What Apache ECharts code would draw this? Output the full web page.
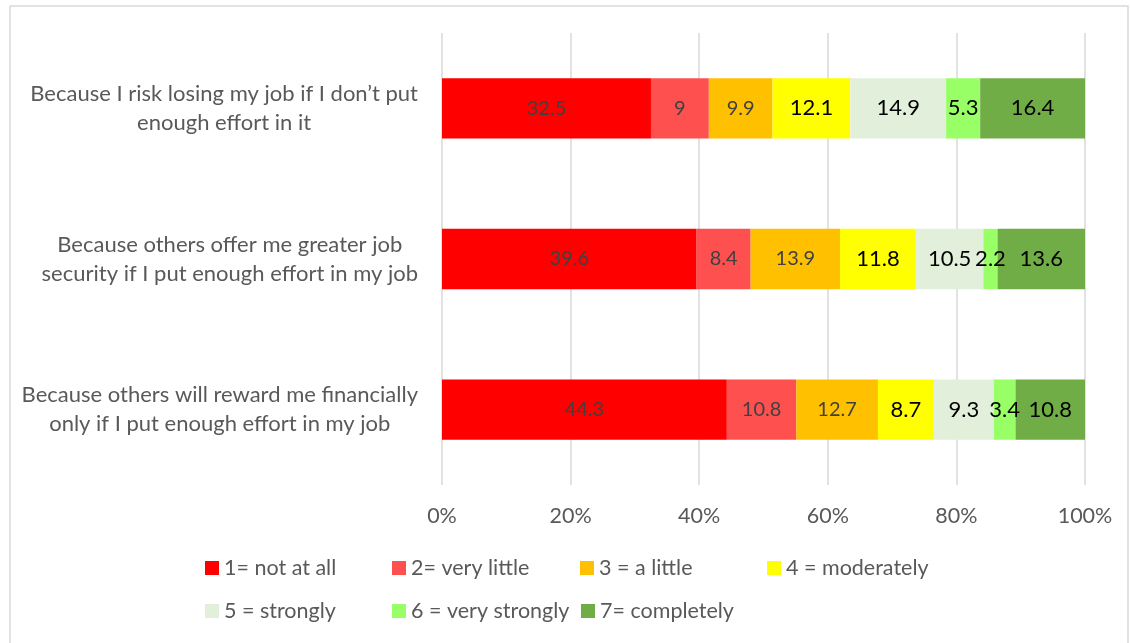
<!DOCTYPE html>
<html>
<head>
<meta charset="utf-8">
<script src="https://cdn.jsdelivr.net/npm/echarts@6/dist/echarts.min.js"></script>
<style>
  html, body { margin: 0; padding: 0; background: #fff; }
  #chart { width: 1130px; height: 643px; }
</style>
</head>
<body>
<div id="chart"></div>
<script>
// categories (top to bottom)
const categories = [
  'Because I risk losing my job if I don\u2019t put\nenough effort in it',
  'Because others offer me greater job\nsecurity if I put enough effort in my job',
  'Because others will reward me financially\nonly if I put enough effort in my job',
]

const seriesNames = [
  '1= not at all',
  '2= very little',
  '3 = a little',
  '4 = moderately',
  '5 = strongly',
  '6 = very strongly',
  '7= completely',
]

const notAtAll = [32.5, 39.6, 44.3]
const veryLittle = [9, 8.4, 10.8]
const aLittle = [9.9, 13.9, 12.7]
const moderately = [12.1, 11.8, 8.7]
const strongly = [14.9, 10.5, 9.3]
const veryStrongly = [5.3, 2.2, 3.4]
const completely = [16.4, 13.6, 10.8]

const xTicks = [0, 20, 40, 60, 80, 100]

const seriesValues = [notAtAll, veryLittle, aLittle, moderately, strongly, veryStrongly, completely]
const colors = ['#FF0000', '#FF5050', '#FFC000', '#FFFF00', '#E2EFDA', '#99FF66', '#70AD47']
const labelColors = ['#404040', '#404040', '#404040', '#000', '#000', '#000', '#000']
const labelSizes = [20, 20, 20, 22, 22, 22, 22]

const font = 'Lato, "Liberation Sans", sans-serif'

// legend positions (Excel lays them out in a loose grid)
const legendPos = [
  [205, 557], [392, 557], [580, 557], [767, 557],
  [205, 600], [392, 600], [581, 600],
]

const chart = echarts.init(document.getElementById('chart'))

chart.setOption({
  animation: false,
  textStyle: { fontFamily: font },
  graphic: [
    {
      type: 'rect',
      shape: { x: 10, y: 6, width: 1118, height: 700 },
      style: { fill: 'none', stroke: '#D9D9D9', lineWidth: 1.5 },
      silent: true,
    },
  ],
  grid: {
    left: 442,
    right: 45,
    top: 33,
    bottom: 158,
  },
  legend: seriesNames.map((name, i) => ({
    data: [name],
    left: legendPos[i][0],
    top: legendPos[i][1],
    icon: 'rect',
    itemWidth: 14,
    itemHeight: 14,
    itemGap: 5,
    padding: 0,
    textStyle: { fontSize: 21.5, color: '#595959', fontFamily: font },
  })),
  xAxis: {
    type: 'value',
    min: xTicks[0],
    max: xTicks[xTicks.length - 1],
    interval: 20,
    axisLine: { show: false },
    axisTick: { show: false },
    splitLine: { lineStyle: { color: '#D9D9D9', width: 1.5 } },
    axisLabel: {
      formatter: '{value}%',
      fontSize: 21.5,
      color: '#595959',
      margin: 20,
      fontFamily: font,
    },
  },
  yAxis: {
    type: 'category',
    inverse: true,
    data: categories,
    axisLine: { show: false },
    axisTick: { show: false },
    axisLabel: {
      margin: 24,
      fontSize: 22,
      color: '#595959',
      fontFamily: font,
      lineHeight: 29,
      formatter: v => v.split('\n').map(s => '{c|' + s + '}').join('\n'),
      rich: {
        c: { align: 'center', fontSize: 22, color: '#595959', fontFamily: font, lineHeight: 29 },
      },
    },
  },
  series: seriesNames.map((name, i) => ({
    name,
    type: 'bar',
    stack: 'total',
    barWidth: '40%',
    data: seriesValues[i],
    itemStyle: { color: colors[i] },
    label: {
      show: true,
      position: 'inside',
      fontSize: labelSizes[i],
      color: labelColors[i],
      fontFamily: font,
    },
  })),
})

window.addEventListener('resize', () => chart.resize())
</script>
</body>
</html>
